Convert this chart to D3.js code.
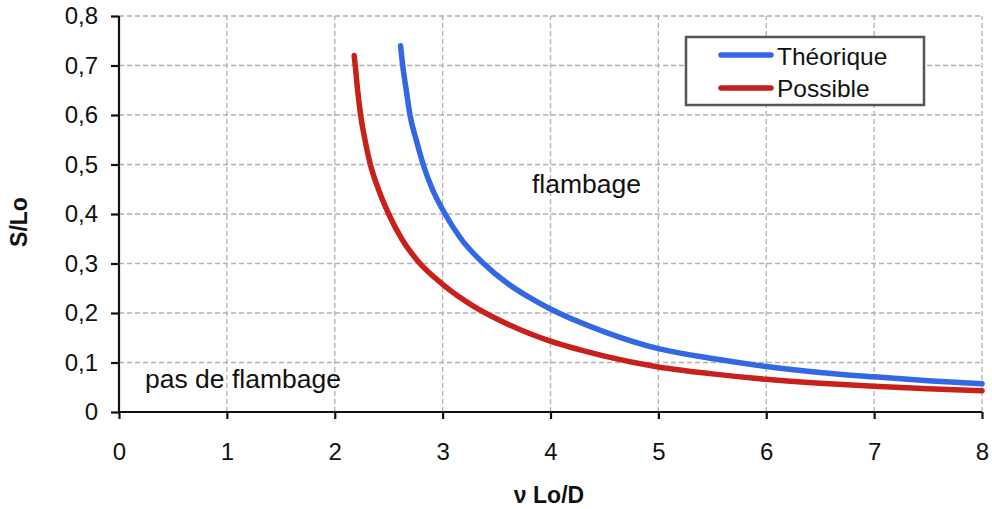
<!DOCTYPE html>
<html>
<head>
<meta charset="utf-8">
<script src="https://cdn.jsdelivr.net/npm/d3@7"></script>
<style>
  body { margin: 0; background: #fff; }
  text { font-family: "Liberation Sans", Arial, sans-serif; }
</style>
</head>
<body>
<div id="chart"></div>
<script>
// values
const xTicks = [0, 1, 2, 3, 4, 5, 6, 7, 8];
const yTicks = [0, 0.1, 0.2, 0.3, 0.4, 0.5, 0.6, 0.7, 0.8];

const theoriqueX = [2.61, 2.63, 2.663, 2.70, 2.755, 2.82, 2.905, 3.01, 3.17, 3.38, 3.6, 3.8, 4.0, 4.5, 5.0, 5.5, 6.0, 6.5, 7.0, 7.5, 8.0];
const theoriqueY = [0.74, 0.70, 0.65, 0.597, 0.55, 0.50, 0.45, 0.405, 0.35, 0.30, 0.26, 0.232, 0.208, 0.162, 0.128, 0.108, 0.092, 0.080, 0.071, 0.063, 0.057];

const possibleX = [2.18, 2.19, 2.212, 2.24, 2.28, 2.33, 2.405, 2.5, 2.62, 2.77, 3.0, 3.3, 3.6, 4.0, 4.5, 5.0, 5.5, 6.0, 6.5, 7.0, 7.5, 8.0];
const possibleY = [0.72, 0.70, 0.65, 0.60, 0.55, 0.50, 0.45, 0.40, 0.35, 0.305, 0.258, 0.212, 0.178, 0.143, 0.113, 0.091, 0.077, 0.066, 0.058, 0.052, 0.047, 0.043];

const seriesNames = ["Théorique", "Possible"];
const seriesColors = ["#3268e3", "#c8211b"];

const width = 992;
const height = 509;
const margin = { top: 16, right: 10, bottom: 97, left: 119 };

const svg = d3.select("#chart")
    .append("svg")
    .attr("width", width)
    .attr("height", height);

const x = d3.scaleLinear().domain([0, 8]).range([margin.left, width - margin.right]);
const y = d3.scaleLinear().domain([0, 0.8]).range([height - margin.bottom, margin.top]);

// dashed grid
const grid = svg.append("g")
    .attr("stroke", "#b0b0b0")
    .attr("stroke-width", 1.3)
    .attr("stroke-dasharray", "5,3");

grid.selectAll("line.v")
    .data(xTicks.slice(1))
    .enter().append("line")
    .attr("x1", d => x(d)).attr("x2", d => x(d))
    .attr("y1", y(0)).attr("y2", y(0.8));

grid.selectAll("line.h")
    .data(yTicks.slice(1))
    .enter().append("line")
    .attr("x1", x(0)).attr("x2", x(8))
    .attr("y1", d => y(d)).attr("y2", d => y(d));

// axes
const fmt = d => d3.format(".1f")(d).replace(".", ",").replace(/^0,0$/, "0");

const xAxis = svg.append("g")
    .attr("transform", `translate(0,${y(0)})`)
    .call(d3.axisBottom(x).tickValues(xTicks).tickSize(7).tickPadding(24).tickFormat(d3.format("d")));

const yAxis = svg.append("g")
    .attr("transform", `translate(${x(0)},0)`)
    .call(d3.axisLeft(y).tickValues(yTicks).tickSize(8).tickPadding(13).tickFormat(fmt));

[xAxis, yAxis].forEach(a => {
  a.select(".domain").attr("stroke", "#111").attr("stroke-width", 2.2);
  a.selectAll(".tick line").attr("stroke", "#111").attr("stroke-width", 2.2);
  a.selectAll(".tick text")
      .attr("fill", "#111")
      .style("font-size", "24px")
      .style("font-family", "'Liberation Sans', Arial, sans-serif");
});
xAxis.select(".domain").attr("d", `M${x(0)},0H${x(8)}`);
yAxis.select(".domain").attr("d", `M0,${y(0)}V${y(0.8)}`);

// curves
const line = d3.line()
    .x(d => x(d[0]))
    .y(d => y(d[1]))
    .curve(d3.curveMonotoneX);

const series = [
  d3.zip(theoriqueX, theoriqueY),
  d3.zip(possibleX, possibleY)
];

svg.selectAll("path.curve")
    .data(series)
    .enter().append("path")
    .attr("class", "curve")
    .attr("d", line)
    .attr("fill", "none")
    .attr("stroke", (d, i) => seriesColors[i])
    .attr("stroke-width", 5.5)
    .attr("stroke-linecap", "round");

// annotations
svg.append("text")
    .attr("x", 532).attr("y", 193)
    .style("font-size", "26.5px")
    .attr("fill", "#111")
    .text("flambage");

svg.append("text")
    .attr("x", 145).attr("y", 388)
    .style("font-size", "26.5px")
    .attr("fill", "#111")
    .text("pas de flambage");

// axis titles
svg.append("text")
    .attr("transform", `translate(27,222) rotate(-90)`)
    .attr("text-anchor", "middle")
    .style("font-size", "23px")
    .style("font-weight", "bold")
    .attr("fill", "#111")
    .text("S/Lo");

svg.append("text")
    .attr("x", 549).attr("y", 503)
    .attr("text-anchor", "middle")
    .style("font-size", "23px")
    .style("font-weight", "bold")
    .attr("fill", "#111")
    .text("ν Lo/D");

// legend
const legend = svg.append("g").attr("transform", "translate(686,37)");

legend.append("rect")
    .attr("width", 238)
    .attr("height", 68)
    .attr("fill", "#fff")
    .attr("stroke", "#555")
    .attr("stroke-width", 2.5);

legend.selectAll("line")
    .data(seriesNames)
    .enter().append("line")
    .attr("x1", 35).attr("x2", 85)
    .attr("y1", (d, i) => 18 + i * 33)
    .attr("y2", (d, i) => 18 + i * 33)
    .attr("stroke", (d, i) => seriesColors[i])
    .attr("stroke-width", 5.5)
    .attr("stroke-linecap", "round");

legend.selectAll("text")
    .data(seriesNames)
    .enter().append("text")
    .attr("x", 91)
    .attr("y", (d, i) => 28 + i * 32)
    .style("font-size", "24.5px")
    .attr("fill", "#111")
    .text(d => d);
</script>
</body>
</html>
